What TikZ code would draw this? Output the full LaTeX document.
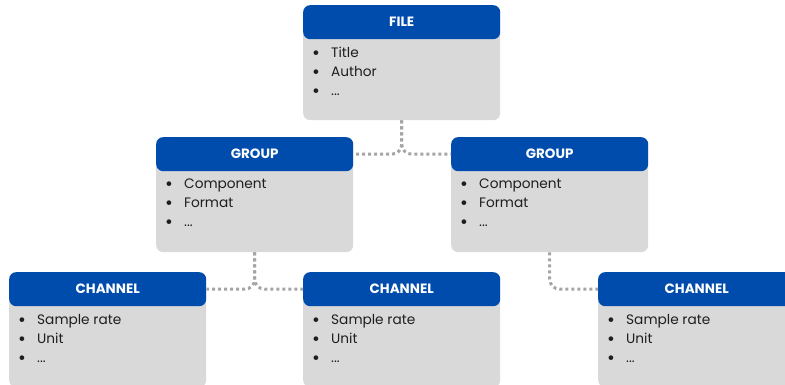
\documentclass[tikz,border=0pt]{standalone}
\usepackage{fontspec}
\setmainfont{Poppins}
\usepackage{xcolor}
\definecolor{headblue}{RGB}{0,76,172}
\definecolor{bodygray}{RGB}{217,217,217}
\definecolor{linkgray}{RGB}{165,165,165}
\definecolor{textdark}{RGB}{30,30,30}
\usepackage{tikz}
\usetikzlibrary{calc}
\newcommand{\widthcard}{197pt}
\newcommand{\dotitem}{\makebox[19pt][l]{\raisebox{-1.8pt}{\fontsize{19}{19}\selectfont\textbullet}}}
\newcommand{\cardlist}[3]{\dotitem#1\\\dotitem#2\\\dotitem#3}
\tikzset{
    card/.style={anchor=north west, fill=bodygray, rounded corners=7pt, minimum width=\widthcard, minimum height=115pt, inner sep=0pt},
    cardhead/.style={anchor=north, fill=headblue, rounded corners=7pt, minimum width=\widthcard, minimum height=34pt, inner sep=0pt,
        text=white, font=\fontsize{13.5}{15}\selectfont\bfseries},
    cardlist/.style={anchor=north west, inner sep=0pt, align=left, text=textdark,
        font=\fontsize{13.7}{19}\selectfont},
    link/.style={draw=linkgray, line width=3pt, dash pattern=on 3pt off 3pt, rounded corners=10pt}
}

\begin{document}
\begin{tikzpicture}[x=1pt, y=-1pt]
    \useasboundingbox (0,0) rectangle (785,385);

    % file on top
    \node[card] (file) at (303,5) {};
    \node[cardhead] (file-head) at (file.north) {FILE};
    \node[cardlist] (file-list) at ([xshift=9pt, yshift=-42pt]file.north west) {\cardlist{Title}{Author}{...}};

    % groups
    \node[card] (gl) at (156,137) {};
    \node[cardhead] (gl-head) at (gl.north) {GROUP};
    \node[cardlist] (gl-list) at ([xshift=9pt, yshift=-42pt]gl.north west) {\cardlist{Component}{Format}{...}};

    \node[card] (gr) at (451,137) {};
    \node[cardhead] (gr-head) at (gr.north) {GROUP};
    \node[cardlist] (gr-list) at ([xshift=9pt, yshift=-42pt]gr.north west) {\cardlist{Component}{Format}{...}};

    % channels
    \node[card] (c1) at (9,272) {};
    \node[cardhead] (c1-head) at (c1.north) {CHANNEL};
    \node[cardlist] (c1-list) at ([xshift=9pt, yshift=-42pt]c1.north west) {\cardlist{Sample rate}{Unit}{...}};

    \node[card] (c2) at (303,272) {};
    \node[cardhead] (c2-head) at (c2.north) {CHANNEL};
    \node[cardlist] (c2-list) at ([xshift=9pt, yshift=-42pt]c2.north west) {\cardlist{Sample rate}{Unit}{...}};

    \node[card] (c3) at (598,272) {};
    \node[cardhead] (c3-head) at (c3.north) {CHANNEL};
    \node[cardlist] (c3-list) at ([xshift=9pt, yshift=-42pt]c3.north west) {\cardlist{Sample rate}{Unit}{...}};

    % links
    \draw[link] (file.south) |- (gl-head.east);
    \draw[link] (file.south) |- (gr-head.west);
    \draw[link] (gl.south) |- (c1-head.east);
    \draw[link] (gl.south) |- (c2-head.west);
    \draw[link] (gr.south) |- (c3-head.west);
\end{tikzpicture}
\end{document}
